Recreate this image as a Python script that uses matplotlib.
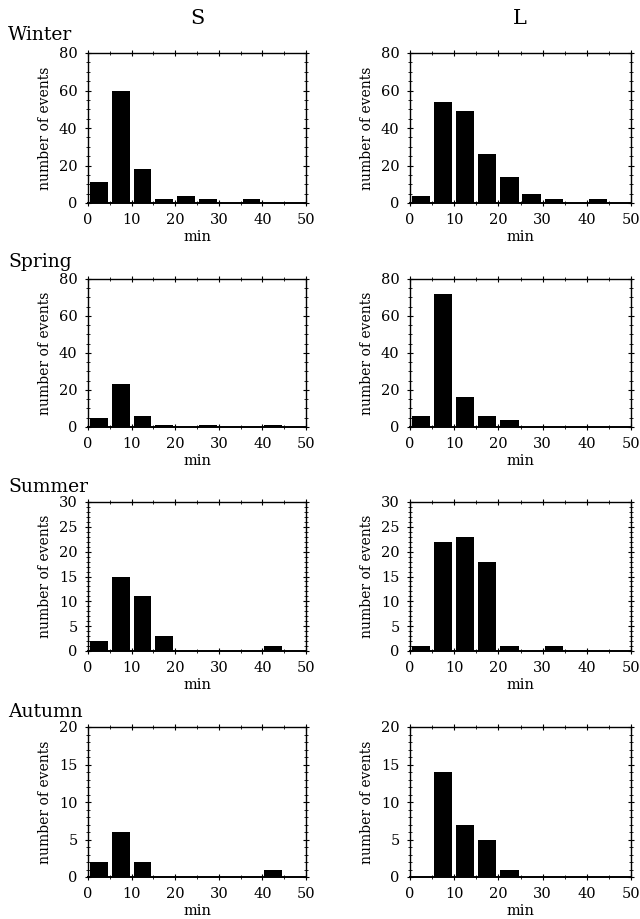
import numpy as np
import matplotlib
matplotlib.use('Agg')
import matplotlib.pyplot as plt
from matplotlib.ticker import MultipleLocator

plt.rcParams['font.family'] = ['DejaVu Serif']
plt.rcParams['font.size'] = 10

# bin centres (min), 5-min bins from 0 to 50
bins = [2.5, 7.5, 12.5, 17.5, 22.5, 27.5, 32.5, 37.5, 42.5, 47.5]
seasons = ['Winter', 'Spring', 'Summer', 'Autumn']
columns = ['S', 'L']

winter_s = [11, 60, 18, 2, 4, 2, 0, 2, 0, 0]
winter_l = [4, 54, 49, 26, 14, 5, 2, 0, 2, 0]
spring_s = [5, 23, 6, 1, 0, 1, 0, 0, 1, 0]
spring_l = [6, 72, 16, 6, 4, 0, 0, 0, 0, 0]
summer_s = [2, 15, 11, 3, 0, 0, 0, 0, 1, 0]
summer_l = [1, 22, 23, 18, 1, 0, 1, 0, 0, 0]
autumn_s = [2, 6, 2, 0, 0, 0, 0, 0, 1, 0]
autumn_l = [0, 14, 7, 5, 1, 0, 0, 0, 0, 0]

counts = [[winter_s, winter_l], [spring_s, spring_l],
          [summer_s, summer_l], [autumn_s, autumn_l]]
ymax = [80, 80, 30, 20]
ystep = [20, 20, 5, 5]

W, H = 640, 919
fig = plt.figure(figsize=(6.4, 9.19), dpi=100)

# axes boxes in pixels: left, right, top, bottom
col_x = [(88, 306), (410, 631)]
row_y = [(53, 203), (279, 427), (502, 651), (727, 877)]

for r in range(4):
    for c in range(2):
        x0, x1 = col_x[c]
        y0, y1 = row_y[r]
        ax = fig.add_axes([x0 / W, 1 - y1 / H, (x1 - x0) / W, (y1 - y0) / H])
        ax.bar(bins, counts[r][c], width=4.1, color='black', linewidth=0)
        ax.set_xlim(0, 50)
        ax.set_ylim(0, ymax[r])
        ax.xaxis.set_major_locator(MultipleLocator(10))
        ax.xaxis.set_minor_locator(MultipleLocator(5))
        ax.yaxis.set_major_locator(MultipleLocator(ystep[r]))
        ax.yaxis.set_minor_locator(MultipleLocator(5 if ystep[r] == 20 else 1))
        ax.tick_params(which='both', top=True, right=True, direction='inout', labelsize=10.5)
        ax.tick_params(which='major', length=5, width=0.8, pad=5)
        ax.tick_params(which='minor', length=2.5, width=0.6)
        for s in ax.spines.values():
            s.set_linewidth(1.0)
        ax.spines['bottom'].set_linewidth(1.4)
        ax.set_xlabel('min', fontsize=10.5, labelpad=2)
        ax.set_ylabel('number of events', fontsize=10, labelpad=5)

# column headers
fig.text(197 / W, 1 - 18 / H, columns[0], fontsize=15, ha='center', va='center')
fig.text(520 / W, 1 - 18 / H, columns[1], fontsize=15, ha='center', va='center')

# season labels
season_y = [35, 262, 487, 712]
for name, yy in zip(seasons, season_y):
    fig.text(8 / W, 1 - yy / H, name, fontsize=13.5, ha='left', va='center')

fig.savefig('out.png', dpi=100)
